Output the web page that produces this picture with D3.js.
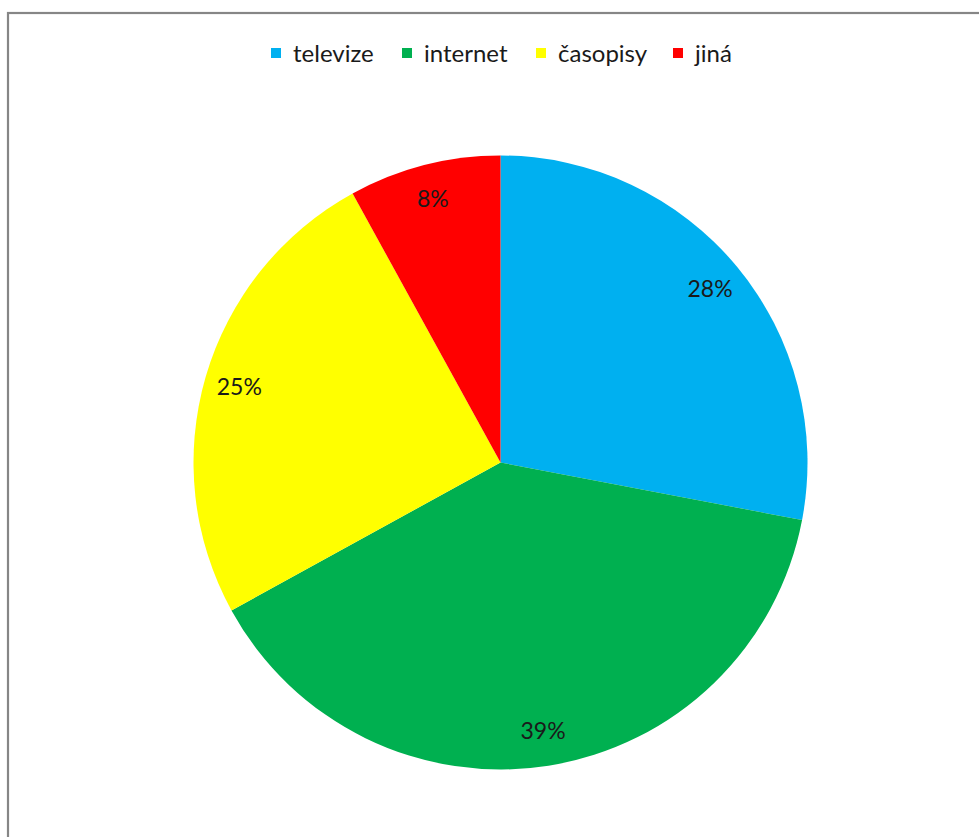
<!DOCTYPE html>
<html>
<head>
<meta charset="utf-8">
<script src="https://cdn.jsdelivr.net/npm/d3@7"></script>
<style>
  html, body { margin: 0; padding: 0; background: #fff; }
  svg { display: block; }
</style>
</head>
<body>
<svg id="chart" width="979" height="837"></svg>
<script>
// Podíl zdrojů informací
const categories = ["televize", "internet", "časopisy", "jiná"];
const shares = [28, 39, 25, 8];
const sliceColors = ["#00B0F0", "#00B050", "#FFFF00", "#FF0000"];

const W = 979, H = 837;
const cx = 500.5, cy = 462.5, radius = 307, labelRadius = 272;
const font = "Lato, 'Open Sans', sans-serif";

const svg = d3.select("#chart");

// chart area frame (only top and left edges fall inside the view)
svg.append("rect")
  .attr("x", 8).attr("y", 13)
  .attr("width", W + 10).attr("height", H + 10)
  .attr("fill", "#fff")
  .attr("stroke", "#868686")
  .attr("stroke-width", 2.2);

const color = d3.scaleOrdinal().domain(categories).range(sliceColors);

const pie = d3.pie().sort(null).value(d => d.value);
const data = categories.map((c, i) => ({ name: c, value: shares[i] }));
const arcs = pie(data);

const arc = d3.arc().innerRadius(0).outerRadius(radius);
const labelArc = d3.arc().innerRadius(labelRadius).outerRadius(labelRadius);

const g = svg.append("g").attr("transform", `translate(${cx},${cy})`);

g.selectAll("path.slice")
  .data(arcs)
  .join("path")
  .attr("class", "slice")
  .attr("d", arc)
  .attr("fill", d => color(d.data.name));

const total = d3.sum(shares);
g.selectAll("text.pct")
  .data(arcs)
  .join("text")
  .attr("class", "pct")
  .attr("transform", d => `translate(${labelArc.centroid(d)})`)
  .attr("text-anchor", "middle")
  .attr("dy", "0.36em")
  .attr("font-family", font)
  .attr("font-size", 23)
  .attr("fill", "#1a1a1a")
  .text(d => Math.round(d.data.value / total * 100) + "%");

// legend
const legendX = [271, 402, 536, 673];
const legend = svg.append("g");
const items = legend.selectAll("g.item")
  .data(categories)
  .join("g")
  .attr("class", "item")
  .attr("transform", (d, i) => `translate(${legendX[i]},48)`);

items.append("rect")
  .attr("width", 10).attr("height", 10)
  .attr("fill", d => color(d));

items.append("text")
  .attr("x", 22)
  .attr("y", 5)
  .attr("dy", "0.36em")
  .attr("font-family", font)
  .attr("font-size", 24)
  .attr("fill", "#1a1a1a")
  .text(d => d);
</script>
</body>
</html>
